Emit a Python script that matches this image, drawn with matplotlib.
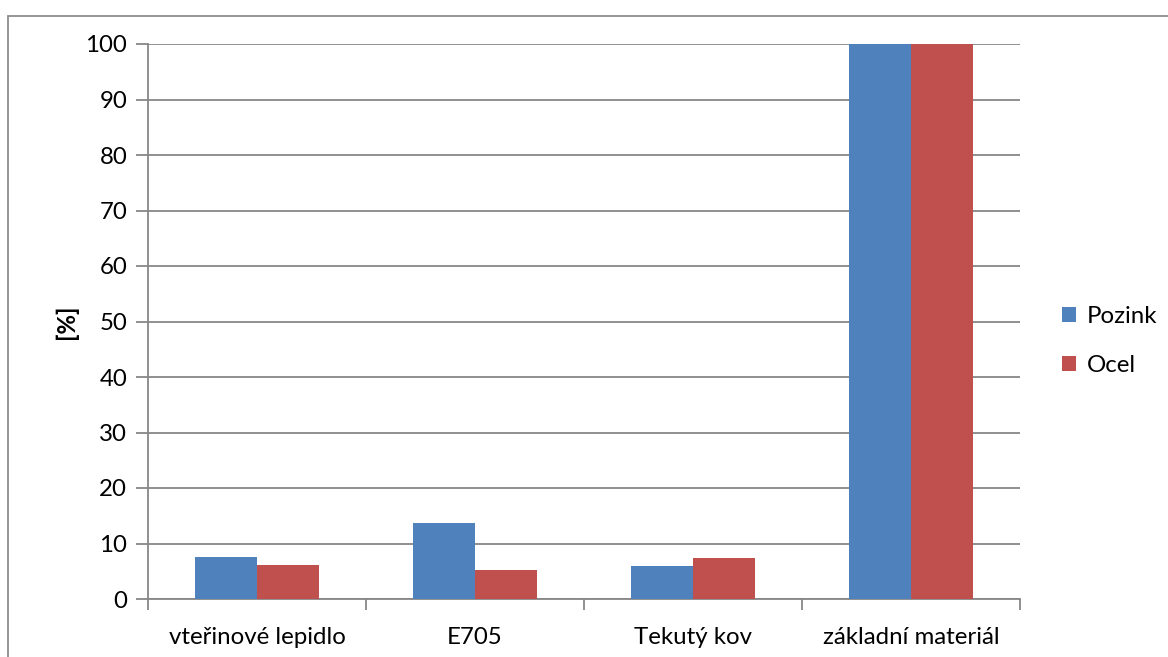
import numpy as np
import matplotlib.pyplot as plt
from matplotlib.patches import Rectangle

plt.rcParams['font.family'] = ['Lato', 'DejaVu Sans']

# Share of the base-material strength for each bonding method
categories = ["vteřinové lepidlo", "E705", "Tekutý kov", "základní materiál"]
pozink = [7.6, 13.7, 5.9, 100]
ocel = [6.2, 5.2, 7.3, 100]
y_ticks = [0, 10, 20, 30, 40, 50, 60, 70, 80, 90, 100]

BLUE = "#4F81BD"
RED = "#C0504D"
GRID = "#878787"
FS = 17.3


def main():
    fig = plt.figure(figsize=(11.68, 6.57), dpi=100)
    ax = fig.add_axes([148 / 1168, 1 - 599 / 657, 872 / 1168, 555 / 657])

    x = np.arange(len(categories))
    w = 0.283
    ax.bar(x - w / 2, pozink, w, color=BLUE, label="Pozink", zorder=3)
    ax.bar(x + w / 2, ocel, w, color=RED, label="Ocel", zorder=3)

    ax.set_xlim(-0.5, len(categories) - 0.5)
    ax.set_ylim(0, 100)
    ax.set_yticks(y_ticks)
    ax.yaxis.grid(True, color=GRID, linewidth=1.3, zorder=0)

    # category labels sit between the boundary ticks
    ax.set_xticks(x)
    ax.set_xticklabels(categories)
    ax.set_xticks(np.arange(len(categories) + 1) - 0.5, minor=True)
    ax.tick_params(axis="x", which="major", length=0, pad=20, labelsize=FS)
    ax.tick_params(axis="x", which="minor", length=8, width=1.3, color=GRID)
    ax.tick_params(axis="y", length=9, width=1.3, color=GRID, pad=6, labelsize=FS)

    for side in ("top", "right"):
        ax.spines[side].set_visible(False)
    for side in ("left", "bottom"):
        ax.spines[side].set_color(GRID)
        ax.spines[side].set_linewidth(1.3)

    ax.set_ylabel("[%]", fontsize=FS, fontweight="bold", labelpad=5)

    fig.legend(loc="center left", bbox_to_anchor=(1040 / 1168, 1 - 341 / 657),
               frameon=False, fontsize=FS, handlelength=0.6, handleheight=0.6,
               handletextpad=0.45, labelspacing=1.15)

    # outer chart frame
    fig.patches.append(Rectangle((8 / 1168, -0.1), 1.2, 1 - 16 / 657 + 0.1,
                                 transform=fig.transFigure, fill=False,
                                 edgecolor="#8c8c8c", linewidth=1.3))

    fig.savefig("out.png", dpi=100)
    plt.close(fig)


if __name__ == "__main__":
    main()
